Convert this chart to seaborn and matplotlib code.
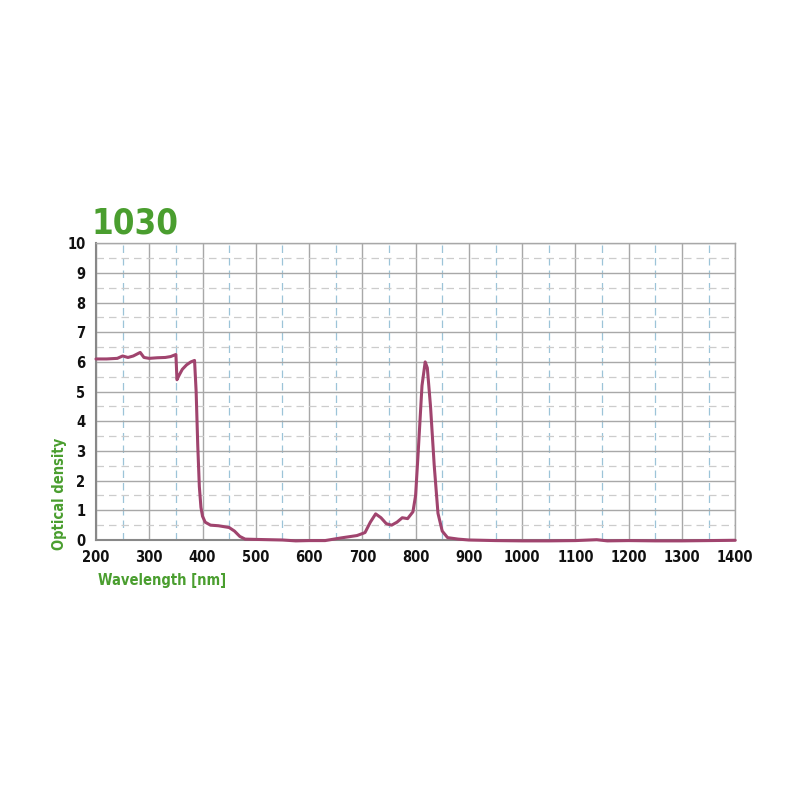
import numpy as np
import pandas as pd
import seaborn as sns
import matplotlib.pyplot as plt
from matplotlib.ticker import MultipleLocator

# 스펙트럼 데이터
wavelength = [200, 220, 240, 250, 260, 270, 283, 290, 300, 315, 330, 340, 350, 352, 356,
              362, 370, 378, 385, 388, 391, 394, 397, 400, 405, 415, 430, 450, 460, 470,
              480, 500, 525, 550, 575, 600, 630, 660, 690, 705, 715, 725, 735, 745, 755,
              765, 775, 785, 795, 800, 805, 812, 818, 822, 828, 835, 842, 850, 860, 880,
              900, 950, 1000, 1050, 1100, 1140, 1160, 1200, 1250, 1300, 1350, 1400]
density = [6.10, 6.10, 6.12, 6.20, 6.15, 6.20, 6.32, 6.15, 6.12, 6.14, 6.15, 6.18, 6.25, 5.40, 5.55,
           5.75, 5.90, 6.00, 6.05, 5.00, 3.20, 1.80, 1.10, 0.80, 0.60, 0.50, 0.48, 0.42, 0.30, 0.12,
           0.03, 0.02, 0.01, 0.00, -0.03, -0.02, -0.02, 0.07, 0.15, 0.25, 0.60, 0.88, 0.75, 0.55, 0.50,
           0.60, 0.75, 0.72, 0.95, 1.50, 3.00, 5.20, 6.00, 5.80, 4.50, 2.50, 0.90, 0.30, 0.08, 0.03,
           0.00, -0.02, -0.03, -0.03, -0.02, 0.01, -0.03, -0.02, -0.03, -0.03, -0.02, -0.01]

df = pd.DataFrame({"wavelength": wavelength, "od": density})

sns.set_style("white")
plt.rcParams['font.family'] = ['DejaVu Sans']
plt.rcParams['font.stretch'] = 'condensed'

green = "#4a9e2f"
fig = plt.figure(figsize=(8, 8), dpi=100)
ax = fig.add_axes([0.12, 0.325, 0.799, 0.371])

sns.lineplot(data=df, x="wavelength", y="od", ax=ax, color="#a0446e", linewidth=2.2)
for ln in ax.lines:
    ln.set_clip_on(False)
    ln.set_zorder(3)

ax.set_xlim(200, 1400)
ax.set_ylim(0, 10)
ax.xaxis.set_major_locator(MultipleLocator(100))
ax.xaxis.set_minor_locator(MultipleLocator(50))
ax.yaxis.set_major_locator(MultipleLocator(1))
ax.yaxis.set_minor_locator(MultipleLocator(0.5))

ax.grid(which="major", color="#a8a8a8", linewidth=1.0, linestyle="-")
ax.grid(which="minor", axis="y", color="#cccccc", linewidth=0.9, linestyle=(0, (6, 4)))
ax.grid(which="minor", axis="x", color="#9cc4d8", linewidth=0.9, linestyle=(0, (6, 4)))
ax.set_axisbelow(True)

for s in ax.spines.values():
    s.set_color("#a8a8a8")
    s.set_linewidth(1.0)
ax.spines["left"].set_color("#888888")
ax.spines["bottom"].set_color("#888888")
ax.spines["left"].set_linewidth(1.5)
ax.spines["bottom"].set_linewidth(1.5)

ax.tick_params(axis="both", which="major", length=4, color="#888888", labelsize=10.5,
               labelcolor="#111111")
ax.tick_params(axis="x", which="minor", length=0)
ax.tick_params(axis="y", which="minor", length=0)
for lab in ax.get_xticklabels() + ax.get_yticklabels():
    lab.set_fontweight("bold")
    lab.set_fontstretch("condensed")

ax.set_xlabel("")
ax.set_ylabel("")
fig.text(0.123, 0.275, "Wavelength [nm]", color=green, fontsize=10.5, fontweight="bold",
         fontstretch="condensed", ha="left", va="center")
fig.text(0.074, 0.383, "Optical density", color=green, fontsize=10.5, fontweight="bold",
         fontstretch="condensed", rotation=90, ha="center", va="center")
fig.text(0.114, 0.72, "1030", color=green, fontsize=25, fontweight="bold",
         fontstretch="condensed", ha="left", va="center")

plt.savefig("out.png", dpi=100)
plt.close()
